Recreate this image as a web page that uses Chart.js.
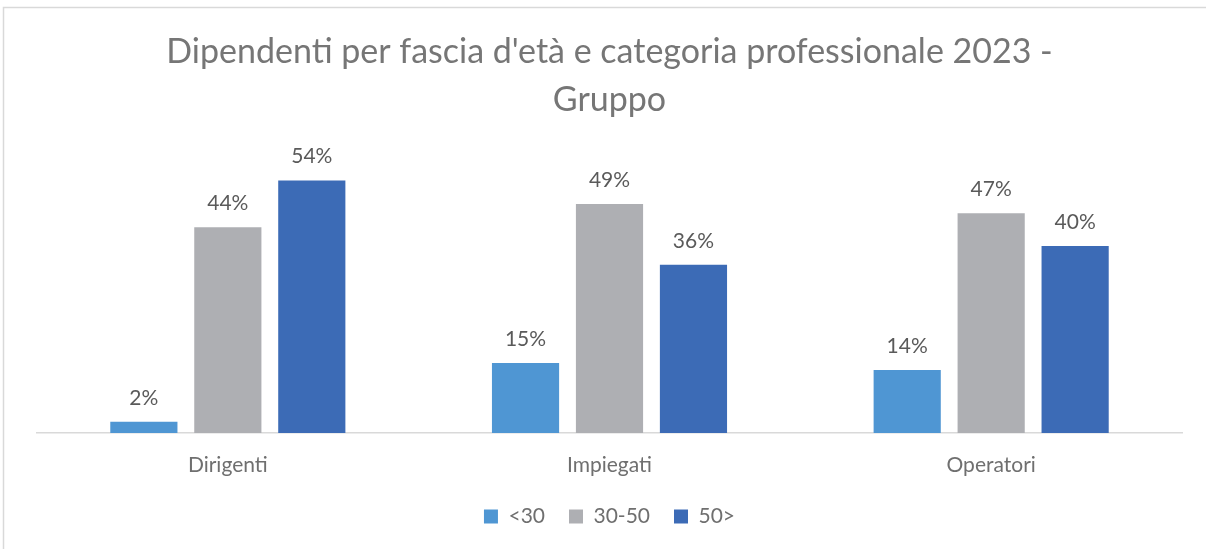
<!DOCTYPE html>
<html>
<head>
<meta charset="utf-8">
<script src="https://cdn.jsdelivr.net/npm/chart.js@4/dist/chart.umd.min.js"></script>
<style>
  html, body { margin: 0; padding: 0; background: #fff; }
  #wrap { width: 1206px; height: 549px; position: relative; }
</style>
</head>
<body>
<div id="wrap"><canvas id="chart" width="1206" height="549"></canvas></div>
<script>
// Data
const categories = ['Dirigenti', 'Impiegati', 'Operatori'];
const seriesNames = ['<30', '30-50', '50>'];
const under30 = [2.4, 15, 13.5];
const from30to50 = [44, 49, 47];
const over50 = [54, 36, 40];
const valueLabels = [
  ['2%', '15%', '14%'],
  ['44%', '49%', '47%'],
  ['54%', '36%', '40%']
];
const colors = ['#4F96D3', '#AEAFB3', '#3C6BB6'];
const titleColor = '#767676';
const textColor = '#6f6f6f';
const valueColor = '#5a5a5a';
const fontFamily = 'Lato, "Open Sans", sans-serif';

// Frame + white background
const framePlugin = {
  id: 'frame',
  beforeDraw(chart) {
    const ctx = chart.ctx;
    ctx.save();
    ctx.fillStyle = '#fff';
    ctx.fillRect(0, 0, chart.width, chart.height);
    ctx.strokeStyle = '#d9d9d9';
    ctx.lineWidth = 1.5;
    ctx.strokeRect(3.5, 7.5, chart.width + 20, chart.height + 20);
    ctx.restore();
  }
};

// Value labels above bars
const valueLabelPlugin = {
  id: 'valueLabels',
  afterDatasetsDraw(chart) {
    const ctx = chart.ctx;
    ctx.save();
    ctx.font = '21px ' + fontFamily;
    ctx.fillStyle = valueColor;
    ctx.textAlign = 'center';
    ctx.textBaseline = 'middle';
    chart.data.datasets.forEach((ds, i) => {
      chart.getDatasetMeta(i).data.forEach((bar, j) => {
        ctx.fillText(valueLabels[i][j], bar.x, bar.y - 24);
      });
    });
    ctx.restore();
  }
};

new Chart(document.getElementById('chart'), {
  type: 'bar',
  data: {
    labels: categories,
    datasets: [
      { label: seriesNames[0], data: under30, backgroundColor: colors[0] },
      { label: seriesNames[1], data: from30to50, backgroundColor: colors[1] },
      { label: seriesNames[2], data: over50, backgroundColor: colors[2] }
    ]
  },
  options: {
    responsive: false,
    animation: false,
    layout: { padding: { left: 37, right: 24, top: 0, bottom: 12 } },
    datasets: { bar: { categoryPercentage: 0.66, barPercentage: 0.8 } },
    plugins: {
      title: {
        display: true,
        text: ["Dipendenti per fascia d'età e categoria professionale 2023 -", 'Gruppo'],
        color: titleColor,
        font: { family: fontFamily, size: 34, weight: 'normal', lineHeight: 1.41 },
        padding: { top: 28, bottom: 10 }
      },
      legend: {
        position: 'bottom',
        labels: {
          color: textColor,
          font: { family: fontFamily, size: 21 },
          boxWidth: 14,
          boxHeight: 14,
          padding: 24
        }
      },
      tooltip: { enabled: false }
    },
    scales: {
      x: {
        grid: { display: false, drawTicks: false },
        border: { display: true, color: '#d9d9d9', width: 1.5 },
        ticks: { color: textColor, font: { family: fontFamily, size: 21 }, padding: 20 },
        afterFit(scale) { scale.height = 49; }
      },
      y: {
        display: false,
        min: 0,
        max: 64
      }
    }
  },
  plugins: [framePlugin, valueLabelPlugin]
});
</script>
</body>
</html>
